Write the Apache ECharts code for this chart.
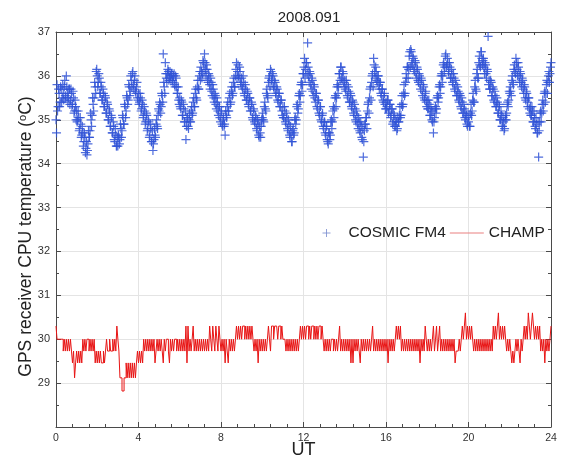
<!DOCTYPE html>
<html>
<head>
<meta charset="utf-8">
<script src="https://cdn.jsdelivr.net/npm/echarts@6/dist/echarts.min.js"></script>
<style>
  html, body { margin: 0; padding: 0; background: #fff; }
  #chart { width: 564px; height: 457px; }
</style>
</head>
<body>
<div id="chart"></div>
<script>
// Day 2008.091 — GPS receiver CPU temperature of COSMIC FM4 and CHAMP versus UT.
const titleText = '2008.091';
const xTicks = [0, 4, 8, 12, 16, 20, 24];
const yTicks = [29, 30, 31, 32, 33, 34, 35, 36, 37];

// Samples are stored one row per UT hour, every 0.05 h (3 min).
const SAMPLE_STEP_H = 0.05;

// COSMIC FM4 temperatures (°C), on the 3-minute grid
const cosmicTemp = [
  [35.0,35.8,35.3,35.6,35.4,35.7,35.5,35.6,35.75,35.55,36.0,35.6,35.5,35.7,35.45,35.6,35.35,35.5,35.2,35.3],
  [35.2,35.0,35.05,34.8,34.9,34.65,34.7,34.5,34.6,34.35,34.2,34.45,34.6,34.75,35.0,35.1,35.35,35.5,35.75,36.1],
  [36.0,35.85,35.95,35.6,35.75,35.45,35.6,35.3,35.5,35.15,35.35,35.0,35.2,34.85,35.05,34.7,34.85,34.5,34.65,34.4],
  [34.4,34.6,34.55,34.8,34.75,35.05,34.9,35.3,35.2,35.5,35.45,35.75,35.65,35.9,36.05,35.8,35.9,35.65,35.75,35.5],
  [35.6,35.4,35.5,35.25,35.35,35.1,35.2,34.95,35.1,34.8,34.95,34.65,34.8,34.5,34.3,34.55,34.65,34.9,34.85,35.1],
  [35.2,35.35,35.3,35.55,36.5,35.75,36.3,35.95,36.05,36.1,35.95,36.0,36.05,35.9,36.0,35.8,36.0,35.75,35.6,35.45],
  [35.5,35.25,35.4,35.1,35.25,34.95,34.55,35.05,34.85,35.0,34.95,35.2,35.1,35.4,35.3,35.6,35.5,35.75,35.7,36.0],
  [35.9,36.1,36.05,36.3,36.5,36.15,36.25,35.9,36.05,35.8,35.95,35.65,35.8,35.5,35.6,35.35,35.5,35.2,35.3,35.05],
  [35.15,34.9,35.0,34.85,34.65,35.1,35.3,35.2,35.5,35.35,35.65,35.55,35.85,35.75,36.0,36.3,36.1,36.0,36.2,35.85],
  [35.95,35.7,35.85,35.55,35.7,35.45,35.6,35.3,35.5,35.2,35.35,35.0,35.2,34.9,35.05,34.75,34.9,34.6,34.7,34.85],
  [35.05,35.0,35.3,35.25,35.6,35.55,35.85,36.0,36.15,35.9,36.05,35.75,35.9,35.6,35.75,35.45,35.6,35.3,35.45,35.2],
  [35.3,35.05,35.2,34.9,35.05,34.75,34.9,34.6,34.7,34.5,34.8,34.7,35.05,35.0,35.35,35.25,35.6,35.55,35.85,35.8],
  [36.05,36.4,36.15,36.3,36.75,36.0,36.1,35.8,35.95,35.65,35.8,35.5,35.6,35.3,35.45,35.15,35.3,35.0,35.1,34.85],
  [34.95,34.7,34.85,34.55,34.45,34.7,34.65,35.0,34.95,35.3,35.25,35.55,35.5,35.8,35.75,36.05,36.2,35.95,36.1,35.85],
  [35.9,35.65,35.8,35.5,35.65,35.4,35.55,35.25,35.4,35.1,35.25,34.95,35.1,34.8,34.95,34.7,34.85,34.55,34.15,34.75],
  [34.9,35.05,35.2,35.4,35.5,35.75,35.85,36.05,36.4,36.1,36.2,35.9,36.0,35.8,35.85,35.6,35.7,35.45,35.55,35.35],
  [35.4,35.3,35.45,35.2,35.35,35.1,35.25,34.95,35.1,34.85,34.95,34.8,34.95,35.1,35.05,35.35,35.3,35.6,35.55,35.85],
  [35.95,36.2,36.15,36.55,36.6,36.3,36.45,36.15,36.35,36.05,36.2,35.9,36.05,35.8,35.95,35.65,35.8,35.5,35.6,35.4],
  [35.45,35.25,35.35,35.1,35.2,34.95,34.7,35.05,35.3,35.25,35.55,35.5,35.8,35.75,36.05,36.0,36.3,36.2,36.5,36.25],
  [36.3,36.05,36.2,35.95,36.05,35.8,35.95,35.65,35.8,35.55,35.65,35.4,35.55,35.25,35.4,35.15,35.25,35.0,35.1,34.85],
  [34.95,34.85,35.15,35.1,35.45,35.4,35.75,35.7,36.05,35.95,36.3,36.25,36.55,36.4,36.35,36.2,36.3,36.05,36.15,36.9],
  [35.9,35.7,35.85,35.55,35.7,35.4,35.55,35.3,35.4,35.15,35.3,35.0,35.1,34.85,34.95,34.8,35.1,35.15,35.4,35.45],
  [35.6,35.65,35.9,35.85,36.15,36.1,36.4,36.15,36.3,36.0,36.1,35.85,35.95,35.7,35.8,35.5,35.65,35.4,35.5,35.25],
  [35.3,35.1,35.2,34.95,35.05,34.8,34.9,34.7,34.15,34.95,35.2,35.15,35.45,35.35,35.65,35.6,35.9,35.85,36.1,36.05],
  [36.3]
];

// COSMIC FM4 temperatures (°C), the samples taken half-way between the grid points
const cosmicTempMid = [
  [34.7,35.2,35.7,35.3,35.75,35.4,35.8,35.45,35.9,35.5,35.75,35.4,35.7,35.35,35.7,35.3,35.65,35.15,35.45,35.0],
  [34.95,35.2,34.75,35.05,34.6,34.85,34.4,34.7,34.25,34.5,34.3,34.75,34.6,35.15,34.85,35.5,35.2,35.85,35.6,36.15],
  [35.75,36.05,35.6,35.85,35.45,35.7,35.3,35.55,35.15,35.4,35.0,35.25,34.85,35.1,34.7,34.95,34.55,34.8,34.4,34.6],
  [34.65,34.45,34.9,34.6,35.1,34.9,35.35,35.05,35.55,35.35,35.8,35.55,36.0,35.75,36.1,35.7,36.0,35.6,35.85,35.45],
  [35.35,35.6,35.2,35.45,35.05,35.3,34.9,35.15,34.75,35.0,34.6,34.9,34.5,34.75,34.45,34.8,34.6,35.0,34.8,35.25],
  [35.4,35.15,35.6,35.4,35.85,35.6,36.05,35.85,36.15,35.9,36.1,35.9,36.05,35.85,36.05,35.75,35.95,35.6,35.75,35.35],
  [35.3,35.45,35.1,35.35,34.95,35.2,34.85,35.05,34.8,35.15,34.95,35.3,35.15,35.5,35.3,35.7,35.45,35.9,35.7,36.1],
  [36.2,35.95,36.35,36.1,36.3,36.0,36.15,35.85,36.0,35.7,35.85,35.55,35.7,35.4,35.55,35.25,35.4,35.1,35.3,34.95],
  [35.2,34.85,35.05,34.9,35.2,35.05,35.4,35.2,35.6,35.4,35.75,35.6,35.95,35.75,36.15,35.95,36.25,35.95,36.1,35.8],
  [35.75,36.0,35.6,35.8,35.45,35.65,35.35,35.5,35.2,35.4,35.05,35.25,34.95,35.1,34.8,35.0,34.65,34.85,34.6,35.0],
  [35.15,34.95,35.4,35.2,35.7,35.5,35.95,35.75,36.1,35.85,36.0,35.7,35.85,35.55,35.7,35.4,35.6,35.3,35.45,35.1],
  [35.05,35.3,34.95,35.15,34.8,35.0,34.65,34.85,34.5,34.75,34.65,35.0,34.9,35.3,35.15,35.55,35.4,35.8,35.65,36.05],
  [36.2,35.95,36.3,36.05,36.2,35.85,36.05,35.7,35.9,35.55,35.75,35.4,35.6,35.25,35.45,35.1,35.3,34.95,35.15,34.8],
  [34.95,34.65,34.85,34.5,34.7,34.55,34.95,34.8,35.2,35.05,35.5,35.3,35.75,35.6,36.05,35.9,36.2,35.9,36.05,35.75],
  [35.7,35.9,35.55,35.75,35.4,35.6,35.3,35.45,35.15,35.35,35.0,35.2,34.9,35.05,34.75,34.95,34.6,34.8,34.5,34.9],
  [35.05,34.8,35.35,35.15,35.7,35.45,36.0,35.75,36.25,35.95,36.1,35.85,36.0,35.7,35.85,35.55,35.7,35.4,35.6,35.25],
  [35.25,35.45,35.15,35.35,35.05,35.25,34.9,35.15,34.85,35.0,34.75,35.05,34.95,35.3,35.1,35.55,35.35,35.8,35.6,36.05],
  [36.2,35.95,36.45,36.2,36.55,36.25,36.4,36.1,36.3,35.95,36.15,35.85,36.0,35.7,35.9,35.55,35.75,35.45,35.65,35.3],
  [35.25,35.45,35.1,35.3,35.0,35.2,34.95,35.25,35.15,35.5,35.4,35.75,35.6,36.0,35.85,36.25,36.1,36.45,36.2,36.4],
  [36.1,36.3,35.95,36.15,35.85,36.05,35.7,35.9,35.55,35.75,35.45,35.6,35.3,35.5,35.15,35.35,35.05,35.2,34.9,35.05],
  [35.1,34.85,35.35,35.2,35.6,35.4,35.9,35.65,36.15,35.95,36.45,36.2,36.55,36.25,36.4,36.05,36.25,35.95,36.1,35.8],
  [35.7,35.9,35.55,35.75,35.45,35.65,35.3,35.5,35.15,35.35,35.0,35.2,34.85,35.05,34.75,35.0,35.0,35.35,35.3,35.65],
  [35.75,35.55,36.0,35.8,36.25,36.05,36.3,36.0,36.2,35.85,36.05,35.75,35.9,35.6,35.75,35.45,35.6,35.3,35.5,35.15],
  [35.1,35.3,34.95,35.2,34.85,35.05,34.7,34.95,34.75,35.15,34.95,35.35,35.2,35.6,35.4,35.8,35.6,36.0,35.85,36.2]
];

// CHAMP temperatures (°C), quantised sensor readings on the 3-minute grid
const champTemp = [
  [30.3,30.0,30.0,30.0,30.0,30.0,30.0,29.73,30.0,29.73,30.0,29.73,30.0,29.73,30.0,29.73,29.46,29.73,29.12,29.46],
  [29.73,29.46,29.73,29.46,29.73,29.46,30.0,29.73,30.0,29.73,30.0,30.0,29.73,30.0,29.73,30.0,29.73,30.0,29.46,29.73],
  [29.46,29.73,29.46,29.73,29.46,29.46,29.73,29.46,29.73,30.0,29.73,29.73,30.0,29.73,29.73,30.0,29.73,30.0,29.73,30.3],
  [30.0,29.73,29.12,29.12,28.82,28.82,29.12,29.12,29.46,29.12,29.46,29.12,29.46,29.12,29.46,29.12,29.46,29.12,29.46,29.73],
  [29.46,29.73,29.46,29.73,29.46,30.0,29.73,30.0,29.73,30.0,29.73,30.0,29.73,30.0,29.73,30.0,29.46,29.73,30.0,29.73],
  [30.0,29.73,30.0,29.73,29.46,30.0,29.73,30.0,30.0,29.73,29.46,30.0,29.73,30.0,29.73,30.0,30.0,29.73,30.0,29.73],
  [30.0,29.73,30.0,29.73,30.0,29.73,30.3,29.46,30.3,29.73,30.0,29.73,30.0,30.3,29.73,30.0,29.73,30.0,29.73,30.0],
  [29.73,30.0,29.73,30.0,29.73,30.0,29.73,30.0,29.73,30.3,30.0,29.73,30.3,30.0,29.73,30.3,30.0,29.73,30.3,30.0],
  [29.73,30.0,29.73,30.0,29.46,30.0,29.73,29.46,30.0,29.73,30.0,29.73,30.0,29.73,30.0,30.3,30.0,30.3,30.0,30.3],
  [30.0,30.3,30.3,30.0,30.3,30.0,30.3,30.0,30.3,30.0,30.3,30.0,29.73,30.0,29.73,30.0,29.46,30.0,29.73,30.0],
  [29.73,30.0,29.73,30.0,29.73,30.0,30.3,30.0,29.73,30.3,30.3,30.0,30.3,30.3,30.3,30.0,30.3,30.3,30.0,30.3],
  [30.0,30.0,30.0,29.73,30.0,29.73,30.0,29.73,30.0,29.73,30.0,29.73,30.0,29.73,30.0,29.73,30.0,30.3,30.0,30.3],
  [30.0,30.3,30.0,30.3,30.3,30.0,30.3,30.0,30.3,30.3,30.0,30.3,30.0,30.3,30.0,30.3,30.3,30.0,30.3,30.0],
  [29.73,30.0,29.73,30.0,29.73,30.0,29.73,30.0,30.0,29.73,30.0,29.73,30.0,29.73,30.0,30.3,29.73,30.0,29.73,30.0],
  [29.73,30.0,29.73,30.0,29.73,30.0,29.46,30.0,29.46,30.0,29.73,30.0,29.73,30.0,29.73,29.46,30.0,29.73,30.0,29.73],
  [30.0,29.73,30.0,29.73,30.0,29.73,30.0,30.3,29.73,30.0,29.73,30.0,29.73,30.0,29.73,30.0,29.73,30.0,29.73,30.0],
  [29.73,30.0,29.46,30.0,29.73,30.0,29.73,30.0,29.73,30.0,30.3,30.0,30.3,30.0,30.3,29.73,30.0,29.73,30.0,29.73],
  [30.0,29.73,30.0,29.73,30.0,29.73,30.0,29.73,30.0,29.73,30.0,29.73,30.0,29.46,30.0,29.73,30.0,29.73,30.3,30.0],
  [29.73,30.0,29.73,30.0,29.73,30.0,30.3,29.73,30.0,30.3,29.73,30.0,30.3,29.73,30.0,29.73,30.0,29.73,30.0,29.73],
  [30.0,29.73,30.0,29.73,30.0,29.73,30.0,29.46,29.73,29.73,29.73,30.0,29.73,30.0,30.3,30.0,30.3,30.6,30.0,30.3],
  [30.0,30.3,30.0,30.3,30.0,29.73,30.0,29.73,30.0,29.73,30.0,29.73,30.0,29.73,30.0,29.73,30.0,29.73,30.0,29.73],
  [30.0,29.73,30.0,29.73,30.3,30.0,30.3,30.0,30.3,30.6,30.0,30.3,30.0,30.3,30.0,30.3,30.0,29.73,30.0,29.73],
  [30.0,29.73,29.46,29.73,29.46,29.73,30.0,29.73,30.0,29.73,29.46,30.0,29.73,30.0,30.3,30.0,30.3,30.0,30.6,30.3],
  [30.0,30.3,30.6,30.3,30.0,30.3,30.0,30.3,30.0,30.3,29.73,30.0,29.73,30.0,29.46,30.0,29.73,30.0,29.73,30.0],
  [30.3]
];

const seriesNames = ['COSMIC FM4', 'CHAMP'];
const cosmicColor = '#2f52d6';
const champColor = '#e81414';
const FONT = '"Liberation Sans", Arial, sans-serif';

// Turn the hourly rows into [UT, value] pairs; offset shifts the sample times.
function toPairs(rows, offset) {
  const out = [];
  rows.forEach((row, h) => {
    row.forEach((v, j) => out.push([+(h + offset + j * SAMPLE_STEP_H).toFixed(3), v]));
  });
  return out;
}

const cosmicPairs = toPairs(cosmicTemp, 0).concat(toPairs(cosmicTempMid, SAMPLE_STEP_H / 2))
  .sort((a, b) => a[0] - b[0]);
const champPairs = toPairs(champTemp, 0);

const plusSymbol = 'path://M0,5L10,5M5,0L5,10';
const thinLineIcon = 'path://M0,0H34V1H0Z';

function axisCommon(extra) {
  return Object.assign({
    type: 'value',
    axisLine: { show: true, onZero: false, lineStyle: { color: '#4a4a4a', width: 1 } },
    axisTick: { show: true, inside: true, length: 5, lineStyle: { color: '#4a4a4a' } },
    splitLine: { show: false },
    axisLabel: { show: false }
  }, extra);
}

const chart = echarts.init(document.getElementById('chart'), null, { renderer: 'canvas' });

chart.setOption({
  animation: false,
  backgroundColor: '#ffffff',
  title: {
    text: titleText,
    left: 304,
    top: 5,
    textAlign: 'center',
    textStyle: { fontFamily: FONT, fontSize: 15, fontWeight: 'normal', color: '#222' }
  },
  grid: { left: 56, right: 13, top: 32, bottom: 30, containLabel: false, outerBoundsMode: 'none' },
  legend: {
    data: [
      { name: seriesNames[0], icon: plusSymbol, itemStyle: { color: 'none', borderColor: '#7d8fd0', borderWidth: 1 } },
      { name: seriesNames[1], icon: thinLineIcon, itemStyle: { color: '#e98080', borderWidth: 0 } }
    ],
    left: 315,
    top: 220,
    itemWidth: 34,
    itemHeight: 8,
    itemGap: 4,
    selectedMode: false,
    textStyle: { fontFamily: FONT, fontSize: 15.5, color: '#222' }
  },
  xAxis: [
    axisCommon({
      position: 'bottom', min: 0, max: 24, interval: 4,
      minorTick: { show: true, splitNumber: 5, length: 3, lineStyle: { color: '#4a4a4a' } },
      splitLine: { show: true, lineStyle: { color: '#e4e4e4', width: 1 } },
      axisLabel: {
        show: true, fontFamily: FONT, fontSize: 10.5, color: '#333', margin: 6,
        formatter: v => (xTicks.includes(v) ? String(v) : '')
      },
      name: 'UT', nameLocation: 'middle', nameGap: 14, nameMoveOverlap: false,
      nameTextStyle: { fontFamily: FONT, fontSize: 18, color: '#222', verticalAlign: 'top' }
    }),
    axisCommon({
      position: 'top', min: 0, max: 24, interval: 4,
      minorTick: { show: true, splitNumber: 5, length: 3, lineStyle: { color: '#4a4a4a' } }
    })
  ],
  yAxis: [
    axisCommon({
      position: 'left', min: 28, max: 37, interval: 1,
      minorTick: { show: true, splitNumber: 2, length: 3, lineStyle: { color: '#4a4a4a' } },
      splitLine: { show: true, lineStyle: { color: '#e4e4e4', width: 1 } },
      axisLabel: {
        show: true, fontFamily: FONT, fontSize: 11, color: '#333', margin: 6,
        formatter: v => (yTicks.includes(v) ? String(v) : '')
      },
      name: 'GPS receiver CPU temperature ({s|o}C)',
      nameLocation: 'middle', nameGap: 20, nameRotate: 90, nameMoveOverlap: false,
      nameTextStyle: {
        fontFamily: FONT, fontSize: 17.5, color: '#222',
        padding: [0, 14, 0, 0],
        rich: { s: { fontFamily: FONT, fontSize: 11, color: '#222', verticalAlign: 'top', padding: [0, 0, 8, 0] } }
      }
    }),
    axisCommon({
      position: 'right', min: 28, max: 37, interval: 1,
      minorTick: { show: true, splitNumber: 2, length: 3, lineStyle: { color: '#4a4a4a' } }
    })
  ],
  series: [
    {
      name: seriesNames[1],
      type: 'line',
      step: 'end',
      xAxisIndex: 0, yAxisIndex: 0,
      data: champPairs,
      symbol: 'none',
      showSymbol: false,
      lineStyle: { color: champColor, width: 1 },
      itemStyle: { color: champColor },
      z: 2
    },
    {
      name: seriesNames[0],
      type: 'scatter',
      xAxisIndex: 0, yAxisIndex: 0,
      data: cosmicPairs,
      symbol: plusSymbol,
      symbolSize: 9,
      itemStyle: { color: 'none', borderColor: cosmicColor, borderWidth: 1.2, opacity: 0.85 },
      z: 3
    }
  ]
});
</script>
</body>
</html>
